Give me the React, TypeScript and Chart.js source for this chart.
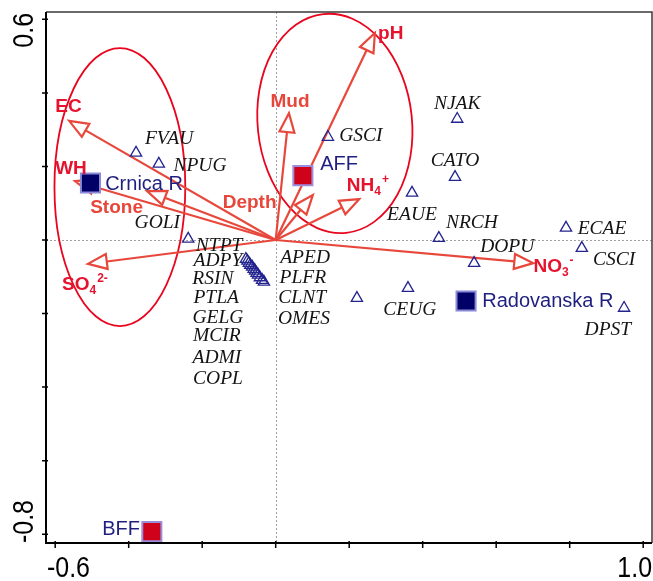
import React, { useEffect, useRef } from "react";
import { Chart, registerables } from "chart.js";
Chart.register(...registerables);

// ---- axis ticks ----
const xTickValues = [-0.6, -0.4, -0.2, 0, 0.2, 0.4, 0.6, 0.8, 1.0];
const xTickLabels = ["-0.6", "", "", "", "", "", "", "", "1.0"];
const yTickValues = [0.6, 0.4, 0.2, 0, -0.2, -0.4, -0.6, -0.8];
const yTickLabels = ["0.6", "", "", "", "", "", "", "-0.8"];
const xRange = [-0.625, 1.024];
const yRange = [-0.824, 0.62];

// ---- species scores (triangles) ----
const speciesNames = [
  "FVAU", "NPUG", "NTPT", "GSCI", "NJAK", "CATO", "EAUE", "NRCH", "DOPU", "ECAE", "CSCI", "CEUG", "DPST", "",
  "ADPY", "GOLI", "RSIN", "PTLA", "GELG", "MCIR", "ADMI", "COPL", "APED", "PLFR", "CLNT", "OMES",
];
const speciesX = [
  -0.380, -0.318, -0.238, 0.142, 0.494, 0.488, 0.371, 0.444, 0.540, 0.790, 0.833, 0.360, 0.948, 0.221,
  -0.081, -0.077, -0.073, -0.069, -0.064, -0.060, -0.056, -0.052, -0.048, -0.043, -0.037, -0.032,
];
const speciesY = [
  0.237, 0.207, 0.003, 0.280, 0.329, 0.171, 0.128, 0.005, -0.063, 0.033, -0.022, -0.131, -0.185, -0.158,
  -0.052, -0.057, -0.063, -0.068, -0.073, -0.079, -0.084, -0.090, -0.095, -0.102, -0.109, -0.114,
];

// ---- species label anchors (centre of text, data units) ----
const speciesLabelText = [
  "FVAU", "NPUG", "GOLI", "NTPT", "ADPY", "RSIN", "PTLA", "GELG", "MCIR", "ADMI", "COPL",
  "APED", "PLFR", "CLNT", "OMES", "GSCI", "NJAK", "CATO", "EAUE", "NRCH", "DOPU", "ECAE", "CSCI", "CEUG", "DPST",
];
const speciesLabelX = [
  -0.290, -0.206, -0.322, -0.154, -0.157, -0.171, -0.162, -0.157, -0.160, -0.160, -0.157,
  0.080, 0.074, 0.072, 0.077, 0.232, 0.494, 0.488, 0.371, 0.534, 0.630, 0.888, 0.921, 0.365, 0.904,
];
const speciesLabelY = [
  0.280, 0.204, 0.049, -0.011, -0.054, -0.103, -0.155, -0.207, -0.258, -0.318, -0.375,
  -0.044, -0.098, -0.155, -0.212, 0.286, 0.373, 0.218, 0.071, 0.049, -0.016, 0.033, -0.049, -0.185, -0.242,
];

// ---- sites (squares) ----
const siteNames = ["Crnica R", "AFF", "Radovanska R", "BFF"];
const siteX = [-0.504, 0.074, 0.518, -0.337];
const siteY = [0.155, 0.175, -0.166, -0.793];
const siteIsFarm = [false, true, false, true];
const siteLabelX = [-0.464, 0.121, 0.562, -0.472];
const siteLabelY = [0.155, 0.209, -0.163, -0.783];

// ---- environmental vectors ----
const envTipX = [-0.562, -0.546, -0.350, -0.511, 0.101, 0.036, 0.270, 0.227, 0.701];
const envTipY = [0.324, 0.160, 0.133, -0.065, 0.122, 0.345, 0.563, 0.111, -0.063];
const envLabelMain = ["EC", "WH", "Stone", "SO", "Depth", "Mud", "pH", "NH", "NO"];
const envLabelSub = ["", "", "", "4", "", "", "", "4", "3"];
const envLabelSup = ["", "", "", "2-", "", "", "", "+", "-"];
const envLabelX = [-0.564, -0.557, -0.433, -0.519, -0.071, 0.039, 0.313, 0.251, 0.756];
const envLabelY = [0.367, 0.199, 0.092, -0.117, 0.106, 0.381, 0.566, 0.152, -0.068];
const envLabelCoral = [false, false, true, false, true, true, false, false, false];

// ---- grouping ellipses ----
const ellipseCX = [-0.424, 0.161];
const ellipseCY = [0.144, 0.317];
const ellipseRX = [0.178, 0.210];
const ellipseRY = [0.378, 0.299];
const ellipseRotDeg = [0, -6];

const SANS = '"Liberation Sans", Arial, sans-serif';
const SERIF = '"Liberation Serif", "Times New Roman", serif';

function drawText(ctx: CanvasRenderingContext2D, s: string, x: number, y: number, font: string, color: string, align: CanvasTextAlign) {
  ctx.font = font;
  ctx.fillStyle = color;
  ctx.textAlign = align;
  ctx.textBaseline = "alphabetic";
  ctx.fillText(s, x, y);
}

const biplotPlugin = {
  id: "biplot",
  beforeDatasetsDraw(chart: any) {
    const ctx: CanvasRenderingContext2D = chart.ctx;
    const xs = chart.scales.x;
    const ys = chart.scales.y;
    const a = chart.chartArea;
    ctx.save();
    // zero lines
    ctx.strokeStyle = "#a0a0a0";
    ctx.lineWidth = 1;
    ctx.setLineDash([2, 2]);
    const x0 = Math.round(xs.getPixelForValue(0)) + 0.5;
    const y0 = Math.round(ys.getPixelForValue(0)) + 0.5;
    ctx.beginPath();
    ctx.moveTo(x0, a.top);
    ctx.lineTo(x0, a.bottom);
    ctx.moveTo(a.left, y0);
    ctx.lineTo(a.right, y0);
    ctx.stroke();
    ctx.setLineDash([]);

    // ellipses
    ctx.strokeStyle = "#e8061e";
    ctx.lineWidth = 1.8;
    for (let i = 0; i < ellipseCX.length; i++) {
      const cx = xs.getPixelForValue(ellipseCX[i]);
      const cy = ys.getPixelForValue(ellipseCY[i]);
      const rx = Math.abs(xs.getPixelForValue(ellipseCX[i] + ellipseRX[i]) - cx);
      const ry = Math.abs(ys.getPixelForValue(ellipseCY[i] + ellipseRY[i]) - cy);
      ctx.beginPath();
      ctx.ellipse(cx, cy, rx, ry, (ellipseRotDeg[i] * Math.PI) / 180, 0, Math.PI * 2);
      ctx.stroke();
    }

    // arrows
    const ox = xs.getPixelForValue(0);
    const oy = ys.getPixelForValue(0);
    const L = 19;
    const H = 7.5;
    ctx.strokeStyle = "#e8483c";
    ctx.lineWidth = 2.2;
    ctx.lineJoin = "miter";
    for (let i = 0; i < envTipX.length; i++) {
      const tx = xs.getPixelForValue(envTipX[i]);
      const ty = ys.getPixelForValue(envTipY[i]);
      const ang = Math.atan2(ty - oy, tx - ox);
      const c = Math.cos(ang), s = Math.sin(ang);
      const bx = tx - L * c, by = ty - L * s;
      ctx.beginPath();
      ctx.moveTo(ox, oy);
      ctx.lineTo(bx, by);
      ctx.stroke();
      ctx.beginPath();
      ctx.moveTo(tx, ty);
      ctx.lineTo(bx - H * s, by + H * c);
      ctx.lineTo(bx + H * s, by - H * c);
      ctx.closePath();
      ctx.fillStyle = "#ffffff";
      ctx.fill();
      ctx.stroke();
    }
    ctx.restore();
  },
  afterDatasetsDraw(chart: any) {
    const ctx: CanvasRenderingContext2D = chart.ctx;
    const xs = chart.scales.x;
    const ys = chart.scales.y;
    ctx.save();
    // species labels
    const spFont = `italic 19.5px ${SERIF}`;
    for (let i = 0; i < speciesLabelText.length; i++) {
      const px = xs.getPixelForValue(speciesLabelX[i]);
      const py = ys.getPixelForValue(speciesLabelY[i]);
      drawText(ctx, speciesLabelText[i], px, py + 6.5, spFont, "#141414", "center");
    }
    // site labels
    const siteFont = `20px ${SANS}`;
    for (let i = 0; i < siteNames.length; i++) {
      const px = xs.getPixelForValue(siteLabelX[i]);
      const py = ys.getPixelForValue(siteLabelY[i]);
      drawText(ctx, siteNames[i], px, py + 7, siteFont, "#1f1f80", "left");
    }
    // env labels
    const mainFont = `bold 19px ${SANS}`;
    const smallFont = `bold 12px ${SANS}`;
    for (let i = 0; i < envLabelMain.length; i++) {
      const color = envLabelCoral[i] ? "#e8463a" : "#e6132e";
      ctx.font = mainFont;
      const wMain = ctx.measureText(envLabelMain[i]).width;
      ctx.font = smallFont;
      const wSub = envLabelSub[i] ? ctx.measureText(envLabelSub[i]).width : 0;
      const wSup = envLabelSup[i] ? ctx.measureText(envLabelSup[i]).width : 0;
      const total = wMain + wSub + wSup + (wSup ? 1 : 0);
      const cx = xs.getPixelForValue(envLabelX[i]);
      const cy = ys.getPixelForValue(envLabelY[i]);
      let x = cx - total / 2;
      const base = cy + 6.8;
      drawText(ctx, envLabelMain[i], x, base, mainFont, color, "left");
      x += wMain;
      if (wSub) {
        drawText(ctx, envLabelSub[i], x, base + 4, smallFont, color, "left");
        x += wSub + 1;
      }
      if (wSup) {
        drawText(ctx, envLabelSup[i], x, base - 8, smallFont, color, "left");
      }
    }
    ctx.restore();
  },
  afterDraw(chart: any) {
    const ctx: CanvasRenderingContext2D = chart.ctx;
    const xs = chart.scales.x;
    const ys = chart.scales.y;
    const a = chart.chartArea;
    ctx.save();
    // frame
    ctx.strokeStyle = "#3a3a3a";
    ctx.lineWidth = 1.5;
    ctx.beginPath();
    ctx.moveTo(a.left, a.top);
    ctx.lineTo(a.right, a.top);
    ctx.lineTo(a.right, a.bottom);
    ctx.stroke();
    ctx.strokeStyle = "#000";
    ctx.lineWidth = 2;
    ctx.beginPath();
    ctx.moveTo(a.left, a.top);
    ctx.lineTo(a.left, a.bottom);
    ctx.lineTo(a.right, a.bottom);
    ctx.stroke();
    // ticks
    ctx.lineWidth = 1.5;
    ctx.beginPath();
    for (const v of xTickValues) {
      const px = xs.getPixelForValue(v);
      ctx.moveTo(px, a.bottom - 2);
      ctx.lineTo(px, a.bottom + 5);
    }
    for (const v of yTickValues) {
      const py = ys.getPixelForValue(v);
      ctx.moveTo(a.left - 4, py);
      ctx.lineTo(a.left + 2, py);
    }
    ctx.stroke();
    // tick labels (slightly condensed, as in the reference)
    const tickFont = `29px ${SANS}`;
    const sx = 0.86;
    ctx.font = tickFont;
    ctx.fillStyle = "#000";
    ctx.textBaseline = "alphabetic";
    for (let i = 0; i < xTickValues.length; i++) {
      const s = xTickLabels[i];
      if (!s) continue;
      const px = xs.getPixelForValue(xTickValues[i]);
      const w = ctx.measureText(s).width * sx;
      let left = px - w / 2;
      if (left < a.left + 1) left = a.left + 1;
      if (left + w > a.right) left = a.right - w;
      ctx.save();
      ctx.translate(left, 577);
      ctx.scale(sx, 1);
      ctx.textAlign = "left";
      ctx.fillText(s, 0, 0);
      ctx.restore();
    }
    for (let i = 0; i < yTickValues.length; i++) {
      const s = yTickLabels[i];
      if (!s) continue;
      const py = ys.getPixelForValue(yTickValues[i]);
      const w = ctx.measureText(s).width * sx;
      let top = py - w / 2;
      if (top < a.top + 1) top = a.top + 1;
      if (top + w > a.bottom) top = a.bottom - w;
      ctx.save();
      ctx.translate(33, top + w / 2);
      ctx.rotate(-Math.PI / 2);
      ctx.scale(sx, 1);
      ctx.textAlign = "center";
      ctx.fillText(s, 0, 0);
      ctx.restore();
    }
    ctx.restore();
  },
};

export default function App() {
  const ref = useRef<HTMLCanvasElement | null>(null);
  useEffect(() => {
    if (!ref.current) return;
    const riverPts: { x: number; y: number }[] = [];
    const farmPts: { x: number; y: number }[] = [];
    for (let i = 0; i < siteNames.length; i++) {
      (siteIsFarm[i] ? farmPts : riverPts).push({ x: siteX[i], y: siteY[i] });
    }
    const chart = new Chart(ref.current, {
      type: "scatter",
      data: {
        datasets: [
          {
            label: "Fish farms",
            data: farmPts,
            pointStyle: "rect",
            pointRadius: 13.5,
            backgroundColor: "#d0021b",
            borderColor: "#9a8fdc",
            borderWidth: 2,
            clip: false,
          },
          {
            label: "Rivers",
            data: riverPts,
            pointStyle: "rect",
            pointRadius: 13.5,
            backgroundColor: "#000066",
            borderColor: "#8a8ad8",
            borderWidth: 2,
            clip: false,
          },
          {
            label: "Species",
            data: speciesX.map((x, i) => ({ x, y: speciesY[i] })),
            pointStyle: "triangle",
            pointRadius: 6.5,
            backgroundColor: "rgba(0,0,0,0)",
            borderColor: "#24248f",
            borderWidth: 1.3,
            clip: false,
          },
        ],
      },
      options: {
        responsive: false,
        animation: false,
        events: [],
        layout: { autoPadding: false, padding: { left: 46, top: 12, right: 1, bottom: 38 } },
        scales: {
          x: { type: "linear", min: xRange[0], max: xRange[1], display: false },
          y: { type: "linear", min: yRange[0], max: yRange[1], display: false },
        },
        plugins: { legend: { display: false }, tooltip: { enabled: false } },
      },
      plugins: [biplotPlugin],
    });
    return () => chart.destroy();
  }, []);
  return (
    <div style={{ position: "fixed", left: 0, top: 0, width: 653, height: 581, background: "#fff" }}>
      <canvas ref={ref} width={653} height={581} style={{ display: "block" }} />
    </div>
  );
}
